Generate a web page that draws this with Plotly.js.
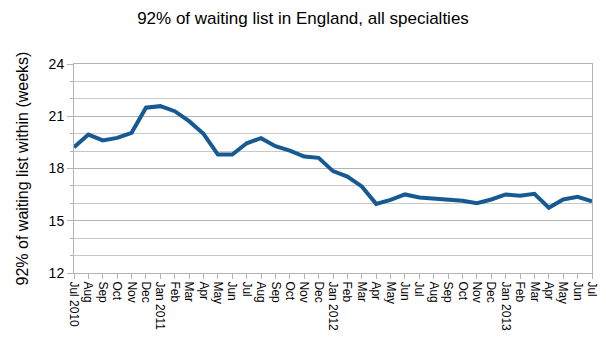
<!DOCTYPE html>
<html>
<head>
<meta charset="utf-8">
<script src="https://cdn.plot.ly/plotly-3.0.1.min.js"></script>
<style>html,body{margin:0;padding:0;background:#fff;}#chart{width:606px;height:351px;}</style>
</head>
<body>
<div id="chart"></div>
<script>
const monthLabels = [
  "Jul 2010","Aug","Sep","Oct","Nov","Dec","Jan 2011","Feb","Mar","Apr","May","Jun",
  "Jul","Aug","Sep","Oct","Nov","Dec","Jan 2012","Feb","Mar","Apr","May","Jun",
  "Jul","Aug","Sep","Oct","Nov","Dec","Jan 2013","Feb","Mar","Apr","May","Jun","Jul"
];
const weeks92 = [
  19.22, 19.95, 19.61, 19.76, 20.05, 21.49, 21.58, 21.29, 20.72, 19.99, 18.80, 18.80,
  19.45, 19.74, 19.28, 19.03, 18.69, 18.61, 17.85, 17.54, 16.97, 15.97, 16.20, 16.51,
  16.34, 16.28, 16.20, 16.15, 16.01, 16.22, 16.51, 16.43, 16.55, 15.75, 16.22, 16.37, 16.11
];
const yTicks = [12, 15, 18, 21, 24];

const idx = monthLabels.map((_, i) => i);

const trace = {
  x: idx,
  y: weeks92,
  type: 'scatter',
  mode: 'lines',
  line: {color: '#155a93', width: 4},
  hoverinfo: 'skip'
};

const layout = {
  width: 606, height: 351,
  margin: {l: 74, r: 14, t: 64, b: 78},
  paper_bgcolor: '#fff', plot_bgcolor: '#fff',
  font: {family: 'Liberation Sans, Arial, sans-serif', color: '#000'},
  showlegend: false,
  title: {
    text: '92% of waiting list in England, all specialties',
    font: {size: 17, color: '#000'},
    x: 0.5, xanchor: 'center', y: 0.95, yanchor: 'middle'
  },
  xaxis: {
    range: [0, idx.length - 1],
    tickmode: 'array', tickvals: idx, ticktext: monthLabels,
    tickangle: 90,
    tickfont: {size: 12, color: '#000'},
    ticks: 'outside', ticklen: 5, tickcolor: '#b3b3b3',
    showgrid: false, zeroline: false,
    showline: true, linecolor: '#b3b3b3', linewidth: 1, mirror: true
  },
  yaxis: {
    range: [12, 24],
    tickmode: 'array', tickvals: yTicks,
    tickfont: {size: 14, color: '#000'},
    ticks: 'outside', ticklen: 6, tickcolor: '#b3b3b3',
    showgrid: true, gridcolor: '#b3b3b3', gridwidth: 1,
    minor: {dtick: 1, showgrid: true, gridcolor: '#c8c8c8', gridwidth: 1, ticks: 'outside', ticklen: 3, tickcolor: '#b3b3b3'},
    zeroline: false,
    showline: true, linecolor: '#b3b3b3', linewidth: 1, mirror: true,
    title: {text: '92% of waiting list within (weeks)', font: {size: 16, color: '#000'}, standoff: 16}
  }
};

Plotly.newPlot('chart', [trace], layout, {displayModeBar: false, staticPlot: true});
</script>
</body>
</html>
